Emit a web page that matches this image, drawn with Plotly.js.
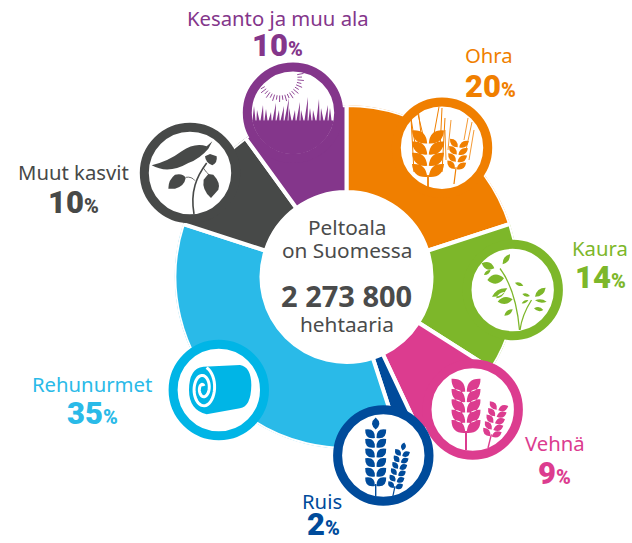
<!DOCTYPE html>
<html>
<head>
<meta charset="utf-8">
<script src="https://cdn.plot.ly/plotly-3.0.1.min.js"></script>
<style>html,body{margin:0;padding:0;background:#fff}#chart{width:632px;height:543px}</style>
</head>
<body>
<div id="chart"></div>
<script>
// ---- chart data ----
var categories = ["Ohra","Kaura","Vehnä","Ruis","Rehunurmet","Muut kasvit","Kesanto ja muu ala"];
var shares     = [20,14,9,2,35,10,10];
var sliceColors= ["#F07F00","#7DB72A","#DC3C8F","#004B9B","#2ABAE8","#474948","#84368B"];
var ringColors = ["#F07F00","#7DB72A","#DC3C8F","#004B9B","#00B5E6","#474948","#84368B"];
var centerLines= ["Peltoala","on Suomessa","2 273 800","hehtaaria"];

// ---- layout constants ----
var W=632,H=543,CX=346.5,CY=277,OUTER=172,INNER=85;
var X=function(x){return +(x/W).toFixed(5)}, Y=function(y){return +(1-y/H).toFixed(5)};
function P(d){return d.replace(/(-?[\d.]+) (-?[\d.]+)/g,function(m,a,b){return X(+a)+' '+Y(+b)});}
var n2=function(v){return v.toFixed(2)};
var shapes=[];
function fillPath(d,c){shapes.push({type:'path',xref:'paper',yref:'paper',layer:'above',path:P(d),fillcolor:c,line:{width:0}});}
function linePath(d,c,w){shapes.push({type:'path',xref:'paper',yref:'paper',layer:'above',path:P(d),fillcolor:'rgba(0,0,0,0)',line:{color:c,width:w}});}
function ring(cx,cy,c){shapes.push({type:'circle',xref:'paper',yref:'paper',layer:'above',x0:X(cx-45.7),x1:X(cx+45.7),y0:Y(cy+45.7),y1:Y(cy-45.7),fillcolor:'#fff',line:{color:c,width:9}});}
function rot(px,py,ox,oy,a){var r=a*Math.PI/180,dx=px-ox,dy=py-oy;return [ox+dx*Math.cos(r)-dy*Math.sin(r),oy+dx*Math.sin(r)+dy*Math.cos(r)];}
function leaf(x0,y0,x1,y1,t){
  var mx=(x0+x1)/2,my=(y0+y1)/2,dx=x1-x0,dy=y1-y0,L=Math.sqrt(dx*dx+dy*dy)||1,nx=-dy/L,ny=dx/L;
  return 'M'+n2(x0)+' '+n2(y0)+' Q'+n2(mx+nx*t)+' '+n2(my+ny*t)+' '+n2(x1)+' '+n2(y1)+' Q'+n2(mx-nx*t)+' '+n2(my-ny*t)+' '+n2(x0)+' '+n2(y0)+' Z ';
}
function ear(o){
  var d='',a=o.angle||0,ox=o.x,oy=o.base;
  function R(x,y){return rot(x,y,ox,oy,a);}
  for(var i=0;i<o.rows;i++){
    var y=o.bottom-i*o.sp;
    [-1,1].forEach(function(s){
      var b=R(o.x+s*0.8,y),t=R(o.x+s*o.hw,y-o.rise);
      d+=leaf(b[0],b[1],t[0],t[1],o.th);
    });
  }
  if(o.top){var b=R(o.x,o.bottom-o.rows*o.sp+1),t=R(o.x,o.bottom-o.rows*o.sp-o.top);d+=leaf(b[0],b[1],t[0],t[1],o.th*0.9);}
  fillPath(d,o.c);
  var s0=R(o.x,o.base),s1=R(o.x,o.bottom-2);
  linePath('M'+n2(s0[0])+' '+n2(s0[1])+' L'+n2(s1[0])+' '+n2(s1[1]),o.c,o.sw||1.4);
}
function awns(list,c,w){var d='';list.forEach(function(s){d+='M'+s[0]+' '+s[1]+' L'+s[2]+' '+s[3]+' ';});linePath(d,c,w);}

// Ohra icon
ring(442,147.7,ringColors[0]);
ear({x:428,base:187,bottom:177,rows:4,sp:11.2,hw:16,rise:13,th:10,c:ringColors[0],sw:1.8});
awns([[414,172,411,118],[416,150,410.5,115],[423,135,417,110],[442,172,445,118],[440,150,442,108],[434,134,439,107],[421,134,418,108]],ringColors[0],1);
ear({x:454,base:184,bottom:169,rows:4,sp:7.3,hw:9.5,rise:7.5,th:6,c:ringColors[0],sw:1.2,angle:7});
awns([[448,150,451,120],[446,160,445,130],[466,150,472,122],[464,140,468,118],[469,160,474,130]],ringColors[0],0.8);

// Kaura icon
ring(512.7,290,ringColors[1]);
(function(){
  var c=ringColors[1],d='',ox=460,oy=220;
  var L=[[65,130,103,145,9],[128,133,150,103,6],[72,165,92,150,4],[82,180,132,175,11],[96,230,142,205,7],[108,235,135,215,4],[113,245,158,238,8],[133,287,158,268,5],[165,188,190,197,4],[187,222,210,228,4],[185,250,205,240,3],[225,230,257,203,7],[225,241,260,245,4],[222,265,250,270,5]];
  L.forEach(function(l){d+=leaf(ox+l[0]/3,oy+l[1]/3,ox+l[2]/3,oy+l[3]/3,l[4]/1.2);});
  fillPath(d,c);
  linePath('M500 268.5 Q516 290 519.5 330',c,1.3);
  linePath('M531.5 300 Q522 315 520 330',c,1.3);
})();

// Vehnä icon
ring(472.7,409.5,ringColors[2]);
ear({x:466,base:450,bottom:433,rows:5,sp:10.3,hw:14.5,rise:13,th:10,c:ringColors[2],sw:2});
ear({x:488,base:448,bottom:436,rows:5,sp:6.8,hw:9.5,rise:6.5,th:6,c:ringColors[2],sw:1.4,angle:14,top:0});

// Ruis icon
ring(383.3,455.5,ringColors[3]);
ear({x:375.7,base:496,bottom:486,rows:6,sp:9.6,hw:10.5,rise:8.5,th:8,c:ringColors[3],sw:1.4,top:11});
ear({x:392.7,base:497,bottom:488,rows:6,sp:6.6,hw:7.5,rise:5.5,th:5.6,c:ringColors[3],sw:1.2,angle:12,top:7});

// Rehunurmet icon
ring(218.8,390,ringColors[4]);
(function(){
  var c=ringColors[4],ox=165,oy=335,q=function(x,y){return n2(ox+x/3)+' '+n2(oy+y/3);};
  fillPath('M'+q(115,95)+' L'+q(225,90)+' Q'+q(258,95)+' '+q(259,150)+' Q'+q(258,215)+' '+q(225,220)+' L'+q(125,238)+' Q'+q(72,225)+' '+q(72,165)+' Q'+q(72,100)+' '+q(115,95)+' Z',c);
  // white spiral on the bale's end
  var d='',cx=114,cy=160,i;
  for(i=0;i<=80;i++){
    var t=i/80,a=-0.6+t*2.05*Math.PI*2,r=5+t*33;
    var xx=cx-Math.sin(a)*r*1.0,yy=cy-Math.cos(a)*r*1.7;
    d+=(i?'L':'M')+q(xx,yy)+' ';
  }
  linePath(d,'#fff',3);
})();

// Muut kasvit icon
ring(190,173,ringColors[5]);
(function(){
  var c=ringColors[5],ox=135,oy=118,q=function(x,y){return n2(ox+x/3)+' '+n2(oy+y/3);};
  fillPath('M'+q(50,142)+' Q'+q(100,130)+' '+q(140,100)+' Q'+q(180,72)+' '+q(215,85)+' L'+q(232,70)+' L'+q(220,92)+' Q'+q(195,122)+' '+q(160,135)+' Q'+q(100,170)+' '+q(50,142)+' Z',c);
  fillPath('M'+q(100,212)+' Q'+q(100,185)+' '+q(120,170)+' Q'+q(145,165)+' '+q(152,180)+' Q'+q(148,205)+' '+q(120,212)+' Z',c);
  fillPath('M'+q(228,240)+' Q'+q(200,215)+' '+q(206,185)+' L'+q(220,168)+' L'+q(235,170)+' Q'+q(258,195)+' '+q(250,215)+' Z',c);
  fillPath('M'+q(210,115)+' L'+q(225,108)+' L'+q(245,115)+' Q'+q(248,135)+' '+q(232,142)+' Q'+q(212,135)+' '+q(210,115)+' Z',c);
  linePath('M'+q(177,288)+' C'+q(165,220)+' '+q(185,175)+' '+q(215,135),c,1.6);
  linePath('M'+q(152,178)+' Q'+q(170,175)+' '+q(180,188),c,0.8);
  linePath('M'+q(205,150)+' Q'+q(215,165)+' '+q(222,170),c,0.8);
})();

// Kesanto icon
ring(293,112.7,ringColors[6]);
(function(){
  var c=ringColors[6],cx=293,cy=112.7,R=41.5,d='',i;
  // lower part of the white disc
  var a0=Math.asin((120.5-cy)/R),pts=[];
  for(i=0;i<=40;i++){var a=a0+(Math.PI-2*a0)*i/40;pts.push(n2(cx+R*Math.cos(a))+' '+n2(cy+R*Math.sin(a)));}
  fillPath('M'+pts.join(' L')+' Z',c);
  // grass blades: x of blade, top of blade, lean
  var blades=[[254,106,0],[258,110,-1],[262,105,1],[266,109,0],[270,112,1],[274,103,2],[278,110,1],[282,106,2],[286,98,3],[290,108,-1],[294,110,1],[298,102,2],[302,110,-1],[306,97,2],[310,108,0],[314,110,-1],[318,99,1],[322,108,-1],[326,105,2],[330,108,0]];
  var g='';
  blades.forEach(function(b){g+='M'+(b[0]-1.6)+' 121 L'+(b[0]+b[2])+' '+b[1]+' L'+(b[0]+1.6)+' 121 Z ';});
  fillPath(g,c);
  // sun rays
  var sx=280,sy=78;
  for(i=0;i<=26;i++){var b=(-28+i*8.5)*Math.PI/180,r1=17.5,r2=i%2?22:24,
    x1=sx+r1*Math.cos(b),y1=sy+r1*Math.sin(b),x2=sx+r2*Math.cos(b),y2=sy+r2*Math.sin(b);
    if(Math.hypot(x2-cx,y2-cy)<R) d+='M'+n2(x1)+' '+n2(y1)+' L'+n2(x2)+' '+n2(y2)+' ';}
  linePath(d,c,0.9);
})();

// ---- text ----
var FONT='"Noto Sans", sans-serif';
var ann=[];
function T(x,y,txt,size,color,weight,fam){ann.push({xref:'paper',yref:'paper',x:X(x),y:Y(y),xanchor:'center',yanchor:'middle',showarrow:false,text:txt,font:{family:fam||FONT,size:size,color:color,weight:weight||400}});}
var labelPos=[[489,55,490,86],[600,248,600,278],[555,443,555,473],[322,501,323,525],[92,384,92,413],[73,172,73,202],[278,18,278,46]];
categories.forEach(function(name,i){
  var p=labelPos[i],c=sliceColors[i];
  T(p[0],p[1],name,20.3,c,400);
  T(p[2],p[3],shares[i]+'<span style="font-size:20px">%</span>',31,c,900,'Roboto, sans-serif');
});
var ink='#4A4B4B';
T(346.5,227,centerLines[0],20.8,ink);
T(346.5,250,centerLines[1],20.8,ink);
T(346.5,295,'<b>'+centerLines[2]+'</b>',29,ink,700);
T(346.5,324,centerLines[3],20.8,ink);

// ---- barpolar sectors, angles taken from the shares ----
var theta=[],width=[],acc=0;
shares.forEach(function(s){theta.push((acc+s/2)*3.6);width.push(s*3.6);acc+=s;});
var trace={type:'barpolar',theta:theta,width:width,
  r:shares.map(function(){return OUTER-INNER;}),base:shares.map(function(){return INNER;}),
  text:categories,hoverinfo:'text',
  marker:{color:sliceColors,line:{color:'#fff',width:4}}};
var layout={width:W,height:H,margin:{l:0,r:0,t:0,b:0},showlegend:false,paper_bgcolor:'#fff',plot_bgcolor:'#fff',
  polar:{domain:{x:[(CX-OUTER)/W,(CX+OUTER)/W],y:[1-(CY+OUTER)/H,1-(CY-OUTER)/H]},bgcolor:'rgba(0,0,0,0)',
    radialaxis:{visible:false,range:[0,OUTER]},
    angularaxis:{visible:false,direction:'clockwise',rotation:90,thetaunit:'degrees'}},
  shapes:shapes,annotations:ann};
Plotly.newPlot('chart',[trace],layout,{staticPlot:true,displayModeBar:false});
</script>
</body>
</html>
